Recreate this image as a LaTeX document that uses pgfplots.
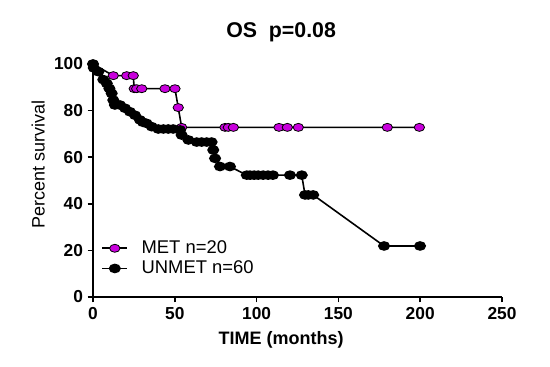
\documentclass[border=0pt]{standalone}
\usepackage{fontspec}
\setmainfont{Liberation Sans}
\usepackage{pgfplots}
\pgfplotsset{compat=1.18}
\definecolor{metpurple}{RGB}{200,0,220}
\begin{document}
\begin{tikzpicture}
\begin{axis}[
  at={(0,0)}, anchor=south west,
  scale only axis,
  width=306.75pt, height=174.75pt,
  xmin=0, xmax=250, ymin=0, ymax=100,
  axis lines=left,
  axis line style={line width=1.5pt, -},
  xtick={0,50,...,250}, ytick={0,20,...,100},
  tick align=outside, major tick length=4pt,
  tick style={line width=1.2pt, black},
  /pgf/number format/assume math mode=true,
  ticklabel style={font=\bfseries\fontsize{13}{14}\selectfont},
  clip=false,
  title={OS\ \ p=0.08},
  title style={at={(axis description cs:0.46,1.1)}, anchor=center, font=\bfseries\fontsize{16}{18}\selectfont},
  xlabel={TIME (months)},
  xlabel style={at={(axis description cs:0.46,-0.185)}, anchor=center, font=\bfseries\fontsize{13.5}{15}\selectfont},
  ylabel={Percent survival},
  ylabel style={at={(axis description cs:-0.134,0.57)}, anchor=center, font=\fontsize{13.5}{15}\selectfont},
  legend image code/.code={\draw[mark repeat=2,mark phase=2] plot coordinates {(0pt,0pt) (9.5pt,0pt) (19pt,0pt)};},
  legend style={at={(0.01,0.265)}, anchor=north west, draw=none, fill=none,
    font=\fontsize{13.8}{15}\selectfont, row sep=0pt, column sep=8pt},
  legend cell align=left,
]
\addplot[black, line width=1.2pt, mark=*, mark size=3pt,
  mark options={xscale=1.3, fill=metpurple, draw=black, line width=0.6pt}]
coordinates {
(0,100)(12.4,95)(20.6,95)(24.6,95)(25.2,89.4)(26.7,89.4)(29.8,89.4)(44,89.4)(50.1,89.4)
(52.1,81.3)(54.2,72.8)(80.7,72.8)(82.7,72.8)(85.8,72.8)(113.7,72.8)(118.8,72.8)(125.5,72.8)
(179.9,72.8)(199.5,72.8)
};
\addlegendentry{MET n=20}
\addplot[black, line width=1.2pt, mark=*, mark size=3pt,
  mark options={xscale=1.3, fill=black, draw=black}]
coordinates {
(0,100)(0.5,98.3)(3.3,96.7)(6.3,93.3)(8.4,91.7)(10,89.5)(11.4,87.4)(12.4,84.5)(13.4,82.4)
(16.5,82.4)(19.6,81)(22.6,79.5)(25.7,78)(28.7,76)(30.5,75)(32.8,74.5)(35.9,73.1)(39.9,72.1)
(43,72.1)(46,72.1)(49,72.1)(53.2,71.7)(54.2,69.5)(58.3,67.4)(63.4,66.5)(66.4,66.5)(69.5,66.5)
(72.5,66.5)(73.5,63.1)(74.6,59.5)(77.6,56)(83.7,56)(94,52.3)(96,52.3)(98.5,52.3)(101,52.3)
(104,52.3)(107,52.3)(110,52.3)(120.4,52.3)(127.6,52.3)(129.6,43.8)(131.6,43.8)(134.6,43.8)
(177.9,21.9)(199.9,21.9)
};
\addlegendentry{UNMET n=60}
\end{axis}
\path[use as bounding box] (-69.75pt,-52.5pt) rectangle (342.75pt,222.75pt);
\end{tikzpicture}
\end{document}
